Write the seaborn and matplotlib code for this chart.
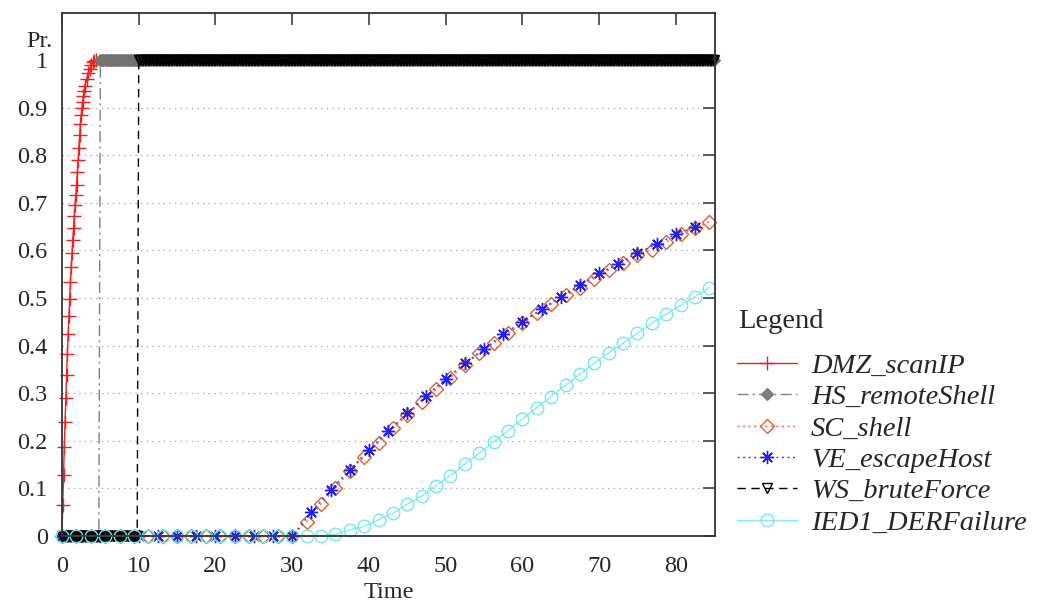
import numpy as np
import pandas as pd
import matplotlib
matplotlib.use("Agg")
import matplotlib.pyplot as plt
import seaborn as sns

# ---------------- data ----------------
# DMZ_scanIP (dense samples)
dmz_t = [0.0, 0.1, 0.2, 0.3, 0.4, 0.5, 0.6, 0.7, 0.8, 0.9, 1.0, 1.1, 1.2, 1.3,
         1.4, 1.5, 1.6, 1.7, 1.8, 1.9, 2.0, 2.1, 2.2, 2.3, 2.4, 2.5, 2.6, 2.7,
         2.8, 2.9, 3.0, 3.2, 3.4, 3.6, 3.8, 4.0, 4.2, 4.4]
dmz_p = [0.000, 0.066, 0.128, 0.186, 0.240, 0.291, 0.338, 0.383, 0.424, 0.463,
         0.499, 0.533, 0.565, 0.594, 0.622, 0.648, 0.672, 0.695, 0.716, 0.738,
         0.764, 0.790, 0.815, 0.843, 0.865, 0.885, 0.900, 0.913, 0.925, 0.936,
         0.945, 0.960, 0.972, 0.981, 0.989, 0.995, 0.999, 1.000]

# dense time grid for the step-like series (HS, WS)
grid_t = [round(0.2 * i, 1) for i in range(426)]          # 0 .. 85
hs_p = [0.0] * 25 + [1.0] * 401                            # jump after t = 4.8
ws_p = [0.0] * 50 + [1.0] * 376                            # jump after t = 9.8

# SC_shell and IED1_DERFailure, sampled every 1.875
sc_t = [1.875 * i for i in range(46)]
sc_p = [0.0] * 17 + [0.030, 0.067, 0.100, 0.137, 0.167, 0.196, 0.226, 0.254,
                     0.282, 0.308, 0.333, 0.359, 0.384, 0.405, 0.426, 0.447,
                     0.468, 0.487, 0.506, 0.522, 0.541, 0.559, 0.574, 0.590,
                     0.602, 0.618, 0.634, 0.648, 0.660]
ied_t = [1.875 * i for i in range(46)]
ied_p = [0.0] * 17 + [0.000, 0.000, 0.004, 0.013, 0.020, 0.034, 0.048, 0.067,
                      0.084, 0.106, 0.127, 0.151, 0.174, 0.198, 0.221, 0.246,
                      0.270, 0.293, 0.317, 0.340, 0.363, 0.385, 0.405, 0.426,
                      0.447, 0.466, 0.485, 0.503, 0.522]

# VE_escapeHost, sampled every 2.5
ve_t = [2.5 * i for i in range(34)]
ve_p = [0.0] * 13 + [0.050, 0.097, 0.139, 0.181, 0.221, 0.258, 0.295, 0.330,
                     0.363, 0.393, 0.424, 0.450, 0.477, 0.503, 0.527, 0.552,
                     0.572, 0.595, 0.613, 0.634, 0.650]

series_names = ["DMZ_scanIP", "HS_remoteShell", "SC_shell", "VE_escapeHost",
                "WS_bruteForce", "IED1_DERFailure"]
y_ticks = [0, 0.1, 0.2, 0.3, 0.4, 0.5, 0.6, 0.7, 0.8, 0.9, 1]
y_tick_labels = ["0", "0.1", "0.2", "0.3", "0.4", "0.5", "0.6", "0.7", "0.8", "0.9", "1"]
x_ticks = [0, 10, 20, 30, 40, 50, 60, 70, 80]
x_tick_labels = ["0", "10", "20", "30", "40", "50", "60", "70", "80"]

# ---------------- plot ----------------
sns.set_style("white")
plt.rcParams["font.family"] = ["Liberation Serif", "DejaVu Serif"]
FS = 17.5
LFS = 20.5

fig = plt.figure(figsize=(10.51, 6.05), dpi=100)
ax = fig.add_axes([62 / 1051, 1 - 536 / 605, (715 - 62) / 1051, (536 - 13) / 605])

# horizontal dotted grid
for yv in y_ticks[1:-1]:
    ax.axhline(yv, color="#a0a0a0", lw=0.9, ls=(0, (1, 3.5)), zorder=0)

common = dict(ax=ax, errorbar=None, sort=False, clip_on=False, legend=False)

sns.lineplot(x=dmz_t, y=dmz_p, color="#f02020", lw=1.0, ls="-",
             marker="+", markersize=9.5, markeredgewidth=1.0,
             markeredgecolor="#f02020", **common)
sns.lineplot(x=grid_t, y=hs_p, color="#808080", lw=1.0, ls=(0, (8, 3, 1.5, 3)),
             marker="D", markersize=6, markeredgewidth=0.8,
             markerfacecolor="#808080", markeredgecolor="#707070", **common)
sns.lineplot(x=sc_t, y=sc_p, color="#f06060", lw=1.0, ls=(0, (1.5, 2.5)),
             marker="D", markersize=7, markerfacecolor="none",
             markeredgecolor="#e0602a", markeredgewidth=1.0, **common)
sns.lineplot(x=ve_t, y=ve_p, color="#3c3ce0", lw=1.0, ls=(0, (1.5, 2.5)),
             marker=(8, 2, 0), markersize=9.5, markeredgewidth=1.0,
             markeredgecolor="#2020f0", **common)
sns.lineplot(x=grid_t, y=ws_p, color="#000000", lw=1.0, ls=(0, (6, 4)),
             marker="v", markersize=7.5, markerfacecolor="none",
             markeredgecolor="#000000", markeredgewidth=1.0, **common)
sns.lineplot(x=ied_t, y=ied_p, color="#80eef0", lw=1.0, ls="-",
             marker="o", markersize=9, markerfacecolor="none",
             markeredgecolor="#78e6ec", markeredgewidth=1.0, **common)

ax.set_xlim(0, 85.1)
ax.set_ylim(0, 1.099)
ax.set_xticks(x_ticks)
ax.set_xticklabels(x_tick_labels)
ax.set_yticks(y_ticks)
ax.set_yticklabels(y_tick_labels)
ax.tick_params(axis="both", which="major", direction="in", length=8.6, width=1.2,
               color="#404040", labelsize=FS, top=True, right=True,
               labeltop=False, labelright=False)
ax.tick_params(axis="y", pad=10.3)
ax.tick_params(axis="x", pad=14.5)
for s in ax.spines.values():
    s.set_color("#333333")
    s.set_linewidth(1.3)
ax.set_xlabel("Time", fontsize=FS, labelpad=3.5)
ax.set_ylabel("")
fig.text(53 / 1051, 1 - 47 / 605, "Pr.", ha="right", va="baseline", fontsize=FS)

# legend title as separate text, entries below
fig.text(738 / 1051, 1 - 322 / 605, "Legend", ha="left", va="center", fontsize=LFS)
handles = ax.get_lines()[9:]
leg = fig.legend(handles, series_names, loc="upper left",
                 bbox_to_anchor=(737 / 1051, 1 - 353 / 605),
                 frameon=False,
                 prop={"family": "Liberation Serif", "style": "italic", "size": LFS},
                 handlelength=2.1, handletextpad=0.5,
                 labelspacing=0.19, borderpad=0, borderaxespad=0)

fig.savefig("out.png", dpi=100)
